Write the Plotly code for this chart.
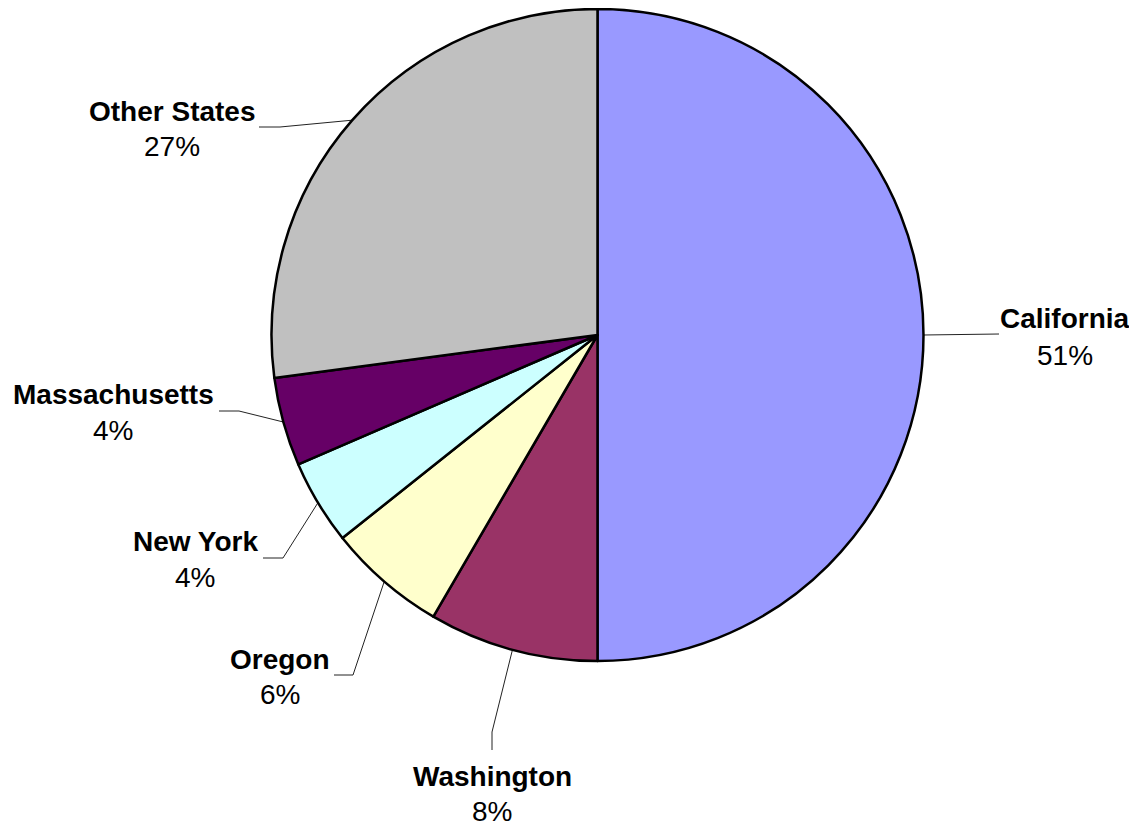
import math
import plotly.graph_objects as go

# ---- data ----
states = ["California", "Washington", "Oregon", "New York", "Massachusetts", "Other States"]
shares = [50.0, 8.4, 5.9, 4.2, 4.4, 27.1]
pct_labels = ["51%", "8%", "6%", "4%", "4%", "27%"]
colors = ["#9999FF", "#993366", "#FFFFCC", "#CCFFFF", "#660066", "#C0C0C0"]

# ---- layout constants (page pixel space; page body has an 8px margin) ----
OFF = 8
W, H = 1137 - OFF, 828 - OFF
CX, CY, R = 597.5 - OFF, 335.0 - OFF, 326.0
FONT = "Liberation Sans, Arial, sans-serif"
FS = 28
# per label: elbow point (or None), end point of leader, label centre x, name y, pct y
label_geom = {
    "California":    (None,        (999, 334), 1065, 318, 355),
    "Washington":    ((492, 732),  (492, 750), 492, 776, 811),
    "Oregon":        ((353, 675),  (334, 675), 280, 659, 694),
    "New York":      ((283, 558),  (263, 558), 195, 541, 577),
    "Massachusetts": ((239, 411),  (219, 411), 113, 394, 430),
    "Other States":  ((280, 127),  (259, 127), 172, 111, 146),
}

def sh(p):
    return (p[0] - OFF, p[1] - OFF)

fig = go.Figure()
fig.add_trace(go.Pie(
    labels=states, values=shares, sort=False, direction="clockwise", rotation=0,
    marker=dict(colors=colors, line=dict(color="black", width=2.5)),
    textinfo="none", hoverinfo="skip", showlegend=False,
    domain=dict(x=[(CX - R) / W, (CX + R) / W], y=[(H - CY - R) / H, (H - CY + R) / H]),
))

total = sum(shares)
cum = 0.0
lx, ly = [], []
annotations = []
for name, v, pct in zip(states, shares, pct_labels):
    mid = (cum + v / 2) / total * 2 * math.pi
    cum += v
    ax, ay = CX + R * math.sin(mid), CY - R * math.cos(mid)
    elbow, end, tx, ny, py = label_geom[name]
    pts = [(ax, ay)] + ([sh(elbow)] if elbow else []) + [sh(end)]
    for p in pts:
        lx.append(p[0]); ly.append(p[1])
    lx.append(None); ly.append(None)
    annotations.append(dict(x=tx - OFF, y=ny - OFF, xref="x", yref="y", text="<b>%s</b>" % name,
                            showarrow=False, font=dict(family=FONT, size=FS, color="black"),
                            xanchor="center", yanchor="middle"))
    annotations.append(dict(x=tx - OFF, y=py - OFF, xref="x", yref="y", text=pct,
                            showarrow=False, font=dict(family=FONT, size=FS, color="black"),
                            xanchor="center", yanchor="middle"))

fig.add_trace(go.Scatter(x=lx, y=ly, mode="lines", line=dict(color="#222222", width=1),
                         hoverinfo="skip", showlegend=False))

fig.update_layout(
    width=W, height=H, margin=dict(l=0, r=0, t=0, b=0),
    paper_bgcolor="white", plot_bgcolor="rgba(0,0,0,0)",
    xaxis=dict(range=[0, W], visible=False, fixedrange=True, domain=[0, 1]),
    yaxis=dict(range=[H, 0], visible=False, fixedrange=True, domain=[0, 1]),
    annotations=annotations,
)
fig.write_html("out.html")
